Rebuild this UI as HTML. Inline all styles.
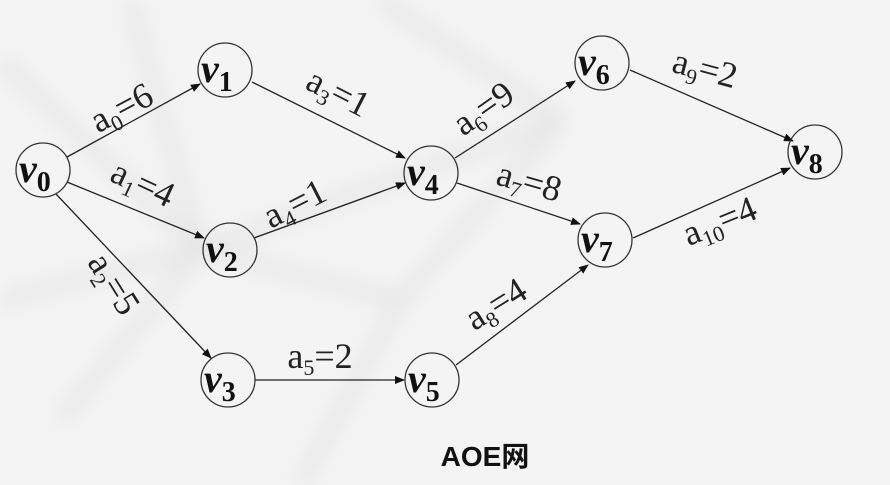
<!DOCTYPE html>
<html><head><meta charset="utf-8"><style>
html,body{margin:0;padding:0;background:#f3f3f3;}
svg{display:block}
.n{font-family:"Liberation Serif",serif;font-style:italic;font-weight:bold;font-size:40px;fill:#111}
.s{font-family:"Liberation Serif",serif;font-size:28px;fill:#111;font-style:normal;font-weight:bold}
.l{font-family:"Liberation Serif",serif;font-size:36px;fill:#222}
.ls{font-size:22px}
</style></head><body>
<svg width="890" height="485" viewBox="0 0 890 485" xmlns="http://www.w3.org/2000/svg">
<defs>
<marker id="ar" markerWidth="10" markerHeight="8" refX="9" refY="4" orient="auto" markerUnits="userSpaceOnUse">
<path d="M0,0 L10,4 L0,8 z" fill="#111"/></marker>
<filter id="bl"><feGaussianBlur stdDeviation="10"/></filter>
</defs>
<rect width="890" height="485" fill="#f4f4f4"/>
<g stroke="#e6e6e6" stroke-width="14" filter="url(#bl)" fill="none">
<path d="M0,60 L200,250 L60,420 M130,0 L200,250 L400,300 L300,485 M400,300 L560,120 L380,0 M200,250 L560,120 M0,300 L200,250"/>
</g>
<g stroke="#222" stroke-width="1.3" fill="none" marker-end="url(#ar)">
<line x1="67" y1="157" x2="200" y2="84"/>
<line x1="67" y1="182" x2="204" y2="238"/>
<line x1="56" y1="194" x2="211" y2="358"/>
<line x1="252" y1="82" x2="405" y2="158"/>
<line x1="254" y1="238" x2="405" y2="183"/>
<line x1="255" y1="380" x2="404" y2="380"/>
<line x1="455" y1="158" x2="575" y2="81"/>
<line x1="457" y1="183" x2="580" y2="224"/>
<line x1="456" y1="365" x2="588" y2="265"/>
<line x1="630" y1="70" x2="793" y2="141"/>
<line x1="633" y1="238" x2="790" y2="168"/>
</g>
<g fill="none" stroke="#333" stroke-width="1.3">
<circle cx="43" cy="170" r="27"/><circle cx="225" cy="70" r="27"/>
<circle cx="230" cy="250" r="27"/><circle cx="228" cy="380" r="27"/>
<circle cx="431" cy="173" r="27"/><circle cx="432" cy="380" r="27"/>
<circle cx="602" cy="63" r="27"/><circle cx="605" cy="240" r="27"/>
<circle cx="815" cy="152" r="27"/>
</g>
<g class="n">
<text x="19" y="182">v<tspan class="s" dy="9">0</tspan></text>
<text x="201" y="82">v<tspan class="s" dy="9">1</tspan></text>
<text x="206" y="262">v<tspan class="s" dy="9">2</tspan></text>
<text x="204" y="392">v<tspan class="s" dy="9">3</tspan></text>
<text x="407" y="185">v<tspan class="s" dy="9">4</tspan></text>
<text x="408" y="392">v<tspan class="s" dy="9">5</tspan></text>
<text x="578" y="75">v<tspan class="s" dy="9">6</tspan></text>
<text x="581" y="252">v<tspan class="s" dy="9">7</tspan></text>
<text x="791" y="164">v<tspan class="s" dy="9">8</tspan></text>
</g>
<g class="l" text-anchor="middle">
<text transform="translate(127,118) rotate(-28)">a<tspan class="ls" dy="7">0</tspan><tspan dy="-7">=6</tspan></text>
<text transform="translate(333,103) rotate(27)">a<tspan class="ls" dy="7">3</tspan><tspan dy="-7">=1</tspan></text>
<text transform="translate(138,194) rotate(25)">a<tspan class="ls" dy="7">1</tspan><tspan dy="-7">=4</tspan></text>
<text transform="translate(300,214) rotate(-27)">a<tspan class="ls" dy="7">4</tspan><tspan dy="-7">=1</tspan></text>
<text transform="translate(104,290) rotate(58)">a<tspan class="ls" dy="7">2</tspan><tspan dy="-7">=5</tspan></text>
<text transform="translate(320,368)">a<tspan class="ls" dy="7">5</tspan><tspan dy="-7">=2</tspan></text>
<text transform="translate(490,118) rotate(-35)">a<tspan class="ls" dy="7">6</tspan><tspan dy="-7">=9</tspan></text>
<text transform="translate(526,193) rotate(16)">a<tspan class="ls" dy="7">7</tspan><tspan dy="-7">=8</tspan></text>
<text transform="translate(502,314) rotate(-32)">a<tspan class="ls" dy="7">8</tspan><tspan dy="-7">=4</tspan></text>
<text transform="translate(702,80) rotate(15)">a<tspan class="ls" dy="7">9</tspan><tspan dy="-7">=2</tspan></text>
<text transform="translate(724,232) rotate(-22)">a<tspan class="ls" dy="7">10</tspan><tspan dy="-7">=4</tspan></text>
</g>
<text x="485" y="466" text-anchor="middle" font-family="'Liberation Sans','Noto Sans CJK SC',sans-serif" font-weight="bold" font-size="28" fill="#111">AOE网</text>
</svg>
</body></html>
